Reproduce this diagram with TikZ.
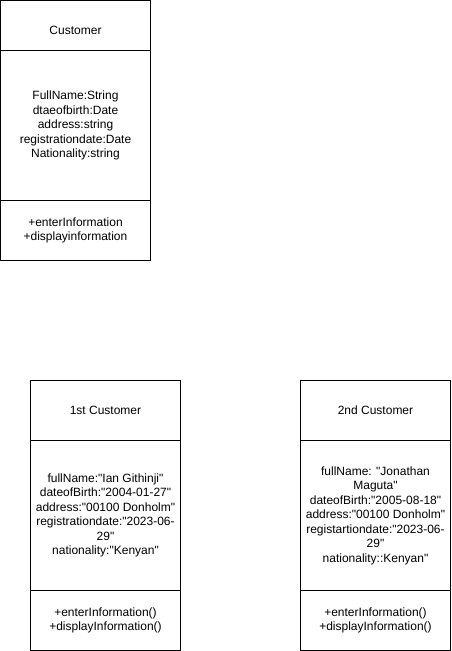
\documentclass[tikz,border=0pt]{standalone}
\usepackage{fontspec}
\setmainfont[Ligatures=TeXOff]{Liberation Sans}
\begin{document}
\begin{tikzpicture}[x=0.75pt,y=-0.75pt,
  comp/.style={draw=black,line width=0.75pt,fill=white,minimum width=112.5pt,inner sep=0pt,outer sep=0pt,align=center,
    font=\fontsize{9pt}{10.9pt}\selectfont},
  ttl/.style={comp,minimum height=45pt},
  ttlA/.style={comp,minimum height=37.5pt},
  attr/.style={comp,minimum height=112.5pt},
  meth/.style={comp,minimum height=45pt}]
\useasboundingbox (0,0) rectangle (451,651);
% Customer class
\node[ttlA] (ct) at (75.5,25.5) {\raisebox{-3.5pt}[6.5pt][0pt]{Customer}};
\node[attr] (ca) at (75.5,125.5) {FullName:String\\dtaeofbirth:Date\\address:string\\registrationdate:Date\\Nationality:string};
\node[meth] (cm) at (75.5,230.5) {+enterInformation\\+displayinformation};
% 1st Customer
\node[ttl] (at) at (105.5,410.5) {1st Customer};
\node[attr] (aa) at (105.5,515.5) {fullName:"Ian Githinji"\\dateofBirth:"2004-01-27"\\address:"00100 Donholm"\\registrationdate:"2023-06-\\29"\\nationality:"Kenyan"};
\node[meth] (am) at (105.5,620.5) {+enterInformation()\\+displayInformation()};
% 2nd Customer
\node[ttl] (bt) at (375.5,410.5) {2nd Customer};
\node[attr] (ba) at (375.5,515.5) {fullName: "Jonathan\\Maguta"\\dateofBirth:"2005-08-18"\\address:"00100 Donholm"\\registartiondate:"2023-06-\\29"\\nationality::Kenyan"};
\node[meth] (bm) at (375.5,620.5) {+enterInformation()\\+displayInformation()};
\end{tikzpicture}
\end{document}
